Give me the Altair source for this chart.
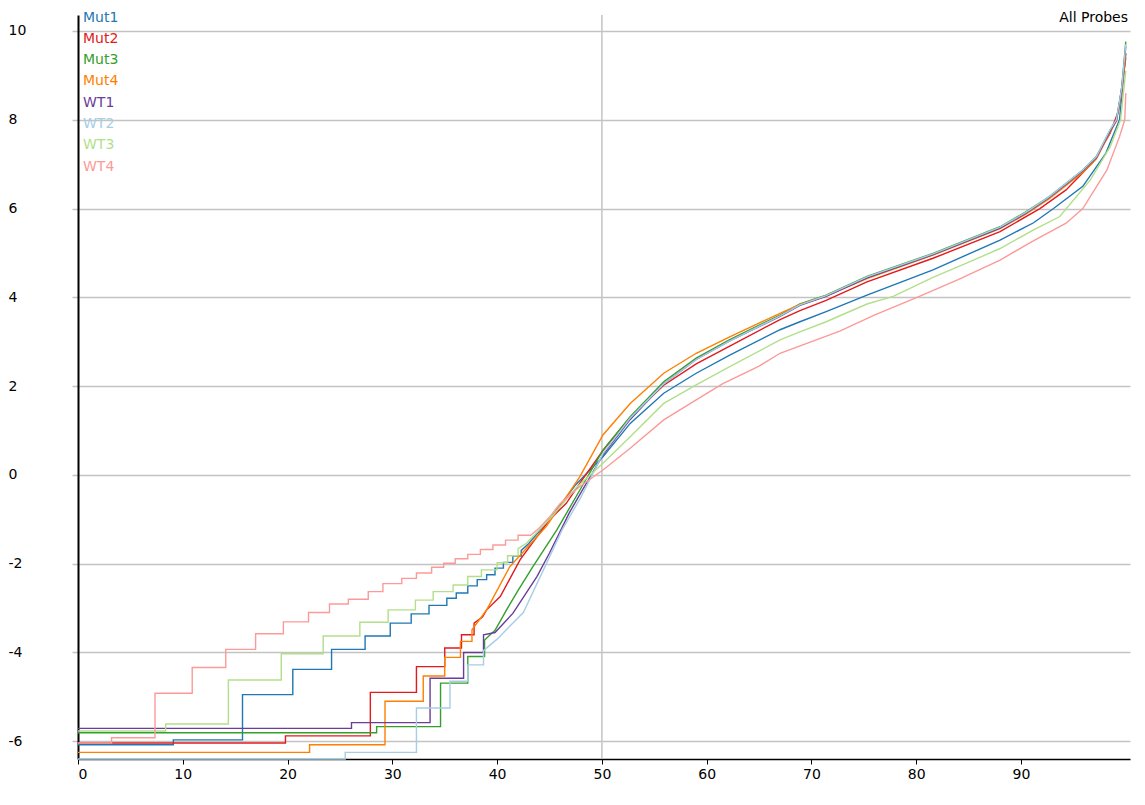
import altair as alt
import pandas as pd

FONT = "DejaVu Sans"
FS = 14

series = ["Mut1", "Mut2", "Mut3", "Mut4", "WT1", "WT2", "WT3", "WT4"]
colors = ["#1f78b4", "#e31a1c", "#33a02c", "#ff7f00", "#6a3d9a", "#a6cee3", "#b2df8a", "#fb9a99"]

y_ticks = [-6, -4, -2, 0, 2, 4, 6, 8, 10]
x_ticks = [0, 10, 20, 30, 40, 50, 60, 70, 80, 90]
v_grid = [50]
title_text = ["All Probes"]

mut1_x = [0, 9.1, 9.1, 15.7, 15.7, 20.5, 20.5, 24.2, 24.2, 27.4, 27.4, 29.8, 29.8, 31.8, 31.8, 33.5, 33.5,
          35.2, 35.2, 36.1, 36.1, 37.2, 37.2, 38.1, 38.1, 39.0, 39.0, 39.8, 39.8, 40.6, 40.6, 41.5, 41.5,
          42.3, 42.3, 43.0, 45.2, 47.5,
          50.1, 52.7, 55.9, 59.0, 62.2, 67.0, 68.9, 71.4, 75.3, 81.6, 88.0, 91.2, 93.1, 95.9, 98.1, 99.4, 100]
mut1_y = [-6.08, -6.08, -5.97, -5.97, -4.95, -4.95, -4.38, -4.38, -3.93, -3.93, -3.63, -3.63, -3.34, -3.34,
          -3.13, -3.13, -2.94, -2.94, -2.78, -2.78, -2.66, -2.66, -2.5, -2.5, -2.36, -2.36, -2.25, -2.25,
          -2.1, -2.1, -1.97, -1.97, -1.83, -1.83, -1.7, -1.55, -0.94, -0.22, 0.41, 1.16, 1.84, 2.29, 2.7,
          3.27, 3.45, 3.68, 4.05, 4.62, 5.29, 5.68, 6.0, 6.5, 7.25, 8.0, 9.5]

mut2_x = [0, 19.8, 19.8, 27.9, 27.9, 32.3, 32.3, 35.0, 35.0, 36.6, 36.6, 37.8, 37.8, 38.6, 39.0, 40.3, 42.2,
          45.0, 46.6, 48.0, 50.1, 52.7, 55.9, 59.0, 62.2, 67.0, 68.9, 71.4, 75.3, 81.6, 88.0, 91.8, 94.3,
          96.9, 98.5, 99.3, 100]
mut2_y = [-6.04, -6.04, -5.88, -5.88, -4.9, -4.9, -4.32, -4.32, -3.9, -3.9, -3.6, -3.6, -3.34, -3.2, -3.04,
          -2.74, -1.91, -1.01, -0.64, -0.15, 0.55, 1.3, 2.02, 2.5, 2.9, 3.5, 3.7, 3.93, 4.35, 4.88, 5.48, 6.0,
          6.42, 7.05, 7.7, 8.2, 9.4]

mut3_x = [0, 28.5, 28.5, 34.6, 34.6, 37.2, 37.2, 38.8, 38.8, 39.8, 40.9, 42.0, 43.4, 45.7, 47.9, 50.1, 52.7,
          55.9, 59.0, 62.2, 67.0, 68.9, 71.4, 75.3, 81.6, 88.0, 90.5, 92.7, 95.9, 97.2, 98.5, 99.1, 99.6, 100]
mut3_y = [-5.81, -5.81, -5.67, -5.67, -4.69, -4.69, -4.09, -4.09, -3.72, -3.5, -3.04, -2.6, -2.07, -1.24,
          -0.34, 0.56, 1.31, 2.1, 2.63, 3.05, 3.6, 3.85, 4.05, 4.47, 4.99, 5.59, 5.93, 6.27, 6.87, 7.17, 7.77,
          8.0, 8.7, 9.76]

mut4_x = [0, 22.1, 22.1, 29.3, 29.3, 32.95, 32.95, 35.0, 35.0, 36.5, 36.5, 37.6, 37.6, 39.0, 41.2, 43.0, 44.7,
          46.0, 47.9, 50.1, 52.7, 55.9, 59.0, 62.2, 67.0, 68.9, 71.4, 75.3, 81.6, 88.0, 90.5, 92.7, 95.9, 97.2,
          98.5, 99.1, 99.6, 100]
mut4_y = [-6.25, -6.25, -6.08, -6.08, -5.1, -5.1, -4.53, -4.53, -4.11, -4.11, -3.75, -3.75, -3.49, -3.04,
          -2.07, -1.6, -1.16, -0.71, -0.04, 0.9, 1.61, 2.29, 2.74, 3.11, 3.64, 3.84, 4.03, 4.42, 4.95, 5.55,
          5.88, 6.22, 6.82, 7.12, 7.72, 7.97, 8.6, 9.5]

wt1_x = [0, 26.1, 26.1, 33.6, 33.6, 36.8, 36.8, 38.7, 38.7, 39.8, 41.5, 43.8, 45.0, 46.9, 48.0, 50.1, 52.7,
         55.9, 59.0, 62.2, 67.0, 68.9, 71.4, 75.3, 81.6, 88.0, 90.5, 92.7, 95.9, 97.2, 98.5, 99.1, 99.6, 100]
wt1_y = [-5.71, -5.71, -5.58, -5.58, -4.58, -4.58, -4.0, -4.0, -3.6, -3.55, -3.12, -2.29, -1.76, -0.85, -0.4,
         0.45, 1.25, 2.05, 2.6, 3.02, 3.57, 3.82, 4.02, 4.44, 4.96, 5.56, 5.9, 6.25, 6.85, 7.15, 7.75, 7.98,
         8.65, 9.65]

wt2_x = [0, 25.5, 25.5, 32.3, 32.3, 35.5, 35.5, 37.2, 37.2, 38.7, 38.7, 40.0, 42.5, 44.5, 46.2, 48.0, 50.1,
         52.7, 55.9, 59.0, 62.2, 67.0, 68.9, 71.4, 75.3, 81.6, 88.0, 90.5, 92.7, 95.9, 97.2, 98.5, 99.1, 99.6,
         100]
wt2_y = [-6.4, -6.4, -6.25, -6.25, -5.25, -5.25, -4.65, -4.65, -4.28, -4.28, -3.96, -3.7, -3.1, -2.1, -1.24,
         -0.5, 0.48, 1.28, 2.05, 2.6, 3.02, 3.58, 3.83, 4.04, 4.46, 4.98, 5.58, 5.92, 6.27, 6.87, 7.17, 7.78,
         8.0, 8.7, 9.7]

wt3_x = [0, 8.37, 8.37, 14.35, 14.35, 19.4, 19.4, 23.4, 23.4, 26.9, 26.9, 29.6, 29.6, 32.2, 32.2, 33.9, 33.9,
         35.8, 35.8, 37.2, 37.2, 38.5, 38.5, 40.0, 40.0, 41.0, 41.0, 42.0, 42.0, 42.8, 45.0, 47.5, 50.1, 52.7,
         55.9, 59.0, 62.2, 67.0, 68.9, 71.4, 75.3, 77.8, 81.6, 84.8, 88.0, 91.2, 93.7, 96.6, 98.5, 99.5, 100]
wt3_y = [-5.77, -5.77, -5.61, -5.61, -4.62, -4.62, -4.03, -4.03, -3.63, -3.63, -3.32, -3.32, -3.04, -3.04,
         -2.82, -2.82, -2.63, -2.63, -2.48, -2.48, -2.29, -2.29, -2.14, -2.14, -1.98, -1.98, -1.82, -1.82,
         -1.66, -1.54, -1.0, -0.3, 0.26, 0.86, 1.61, 2.03, 2.44, 3.04, 3.22, 3.45, 3.85, 4.02, 4.45, 4.77,
         5.1, 5.52, 5.82, 6.64, 7.39, 8.0, 9.1]

wt4_x = [0, 3.2, 3.2, 7.35, 7.35, 10.9, 10.9, 14.1, 14.1, 16.95, 16.95, 19.6, 19.6, 22.0, 22.0, 24.0, 24.0,
         25.8, 25.8, 27.7, 27.7, 29.1, 29.1, 30.9, 30.9, 32.3, 32.3, 33.75, 33.75, 34.9, 34.9, 36.0, 36.0,
         37.2, 37.2, 38.4, 38.4, 39.6, 39.6, 40.8, 40.8, 42.0, 42.0, 43.2, 44.0, 45.0, 46.0, 47.9, 50.1,
         52.7, 55.9, 59.0, 61.5, 65.0, 67.0, 72.7, 76.0, 80.3, 84.0, 88.0, 91.0, 94.3, 95.9, 98.2, 99.4, 99.9,
         100]
wt4_y = [-6.04, -6.04, -5.92, -5.92, -4.92, -4.92, -4.34, -4.34, -3.93, -3.93, -3.58, -3.58, -3.31, -3.31,
         -3.1, -3.1, -2.91, -2.91, -2.8, -2.8, -2.63, -2.63, -2.45, -2.45, -2.33, -2.33, -2.21, -2.21, -2.08,
         -2.08, -1.99, -1.99, -1.89, -1.89, -1.79, -1.79, -1.68, -1.68, -1.58, -1.58, -1.47, -1.47, -1.36,
         -1.36, -1.2, -0.95, -0.65, -0.26, 0.11, 0.6, 1.24, 1.69, 2.05, 2.45, 2.74, 3.24, 3.6, 4.02,
         4.4, 4.84, 5.25, 5.67, 6.0, 6.87, 7.62, 8.0, 8.6]

all_x = [mut1_x, mut2_x, mut3_x, mut4_x, wt1_x, wt2_x, wt3_x, wt4_x]
all_y = [mut1_y, mut2_y, mut3_y, mut4_y, wt1_y, wt2_y, wt3_y, wt4_y]

rows = []
for k, (name, xs, ys) in enumerate(zip(series, all_x, all_y)):
    for i, (xv, yv) in enumerate(zip(xs, ys)):
        rows.append({"series": name, "k": k, "i": i, "pct": xv, "val": yv})
df = pd.DataFrame(rows)

W, H = 1052, 744
xscale = alt.Scale(domain=[0, 100.4], nice=False, zero=False)
yscale = alt.Scale(domain=[-6.4, 10.36], nice=False, zero=False)
cscale = alt.Scale(domain=series, range=colors)

x_axis = alt.Axis(values=x_ticks, grid=False, title=None, domainColor="#000000", domainWidth=1.5,
                  tickColor="#000000", tickSize=5, tickWidth=1, labelPadding=3, labelFont=FONT,
                  labelFontSize=FS, labelColor="#000000", labelBaseline="top")
y_axis = alt.Axis(values=y_ticks, grid=True, gridColor="#c3c3c3", gridWidth=1.5, title=None,
                  domainColor="#000000", domainWidth=2, tickColor="#c3c3c3", tickSize=6, tickWidth=1.5,
                  labelAlign="left", labelBaseline="middle", labelPadding=64, labelFont=FONT,
                  labelFontSize=FS, labelColor="#000000", labelExpr="'' + datum.value")

vgrid = alt.Chart(pd.DataFrame({"v": v_grid})).mark_rule(color="#c3c3c3", strokeWidth=1.5).encode(
    x=alt.X("v:Q", scale=xscale, axis=x_axis)
)

lines = alt.Chart(df).mark_line(strokeWidth=1.4).encode(
    x=alt.X("pct:Q", scale=xscale, axis=x_axis),
    y=alt.Y("val:Q", scale=yscale, axis=y_axis),
    color=alt.Color("series:N", scale=cscale, legend=None),
    order=alt.Order("i:Q"),
)

legend_text = alt.Chart(pd.DataFrame({"series": series})).mark_text(
    align="left", baseline="alphabetic", font=FONT, fontSize=FS
).encode(
    x=alt.value(5),
    y=alt.Y("series:N", sort=series,
            scale=alt.Scale(type="point", domain=series, range=[6.5, 155.8], padding=0), axis=None),
    text="series:N",
    color=alt.Color("series:N", scale=cscale, legend=None),
)

title_mark = alt.Chart(pd.DataFrame({"t": title_text})).mark_text(
    align="right", baseline="alphabetic", font=FONT, fontSize=FS, color="#000000"
).encode(
    x=alt.value(W - 2),
    y=alt.value(6.5),
    text="t:N",
)

chart = alt.layer(vgrid, lines, legend_text, title_mark).resolve_scale(y="independent").properties(
    width=W, height=H,
    autosize=alt.AutoSizeParams(type="none"),
    padding={"left": 70, "top": 7, "right": 7, "bottom": 38},
    background="white",
).configure_view(stroke=None)

chart.save("out.html", embed_options={"renderer": "svg", "actions": False})
